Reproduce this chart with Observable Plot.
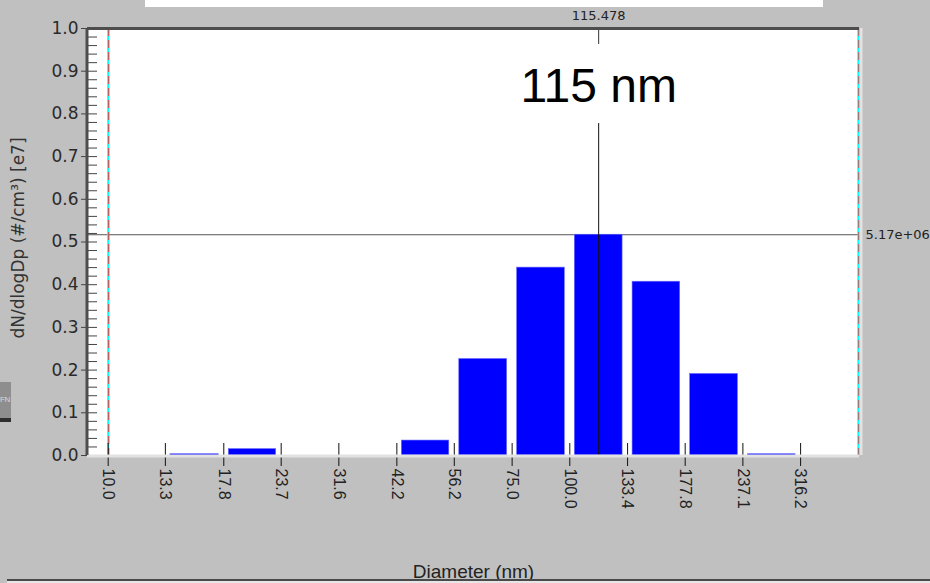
<!DOCTYPE html>
<html>
<head>
<meta charset="utf-8">
<script src="https://cdn.jsdelivr.net/npm/d3@7"></script>
<script src="https://cdn.jsdelivr.net/npm/@observablehq/plot@0.6"></script>
<style>
  html, body { margin: 0; padding: 0; background: #c0c0c0; }
  #wrap { position: relative; width: 930px; height: 583px; overflow: hidden; background: #c0c0c0; }
  #wrap svg { position: absolute; left: 0; top: 0; }
  .topbar { position: absolute; left: 145px; top: 0; width: 678px; height: 7px; background: #ffffff; }
  .fnbtn { position: absolute; left: 0; top: 382px; width: 11px; height: 40px; background: #8e8e8e; overflow: hidden; border-bottom: 4px solid #2e2e2e; box-sizing: border-box; }
  .fnbtn span { position: absolute; left: 0; top: 13px; font: 8px "Liberation Sans", Arial, sans-serif; letter-spacing: -0.5px; color: #d8d8d8; }
  .baseline { position: absolute; left: 7px; top: 579px; width: 923px; height: 2px; background: #4a4a4a; }
  .below { position: absolute; left: 7px; top: 581px; width: 923px; height: 2px; background: #e6e6e6; }
</style>
</head>
<body>
<div id="wrap">
  <div class="topbar"></div>
  <div class="fnbtn"><span>FN</span></div>
  <div class="baseline"></div>
  <div class="below"></div>
</div>
<script>
// Size-bin edges (nm), 8 bins per decade, also used as the x tick labels
const xTicks = [10.0, 13.3, 17.8, 23.7, 31.6, 42.2, 56.2, 75.0, 100.0, 133.4, 177.8, 237.1, 316.2];
// dN/dlogDp per bin, in units of 1e7 #/cm³ (one value per bin between consecutive edges)
const binValues = [0, 0.003, 0.015, 0, 0, 0.035, 0.226, 0.440, 0.517, 0.407, 0.191, 0.003];
// y tick values
const yTicks = [0, 0.1, 0.2, 0.3, 0.4, 0.5, 0.6, 0.7, 0.8, 0.9, 1.0];
const yMinor = d3.range(0, 51).map(i => i / 50);
// cursor position: diameter (nm) and concentration (#/cm³)
const crossX = 115.478;
const crossY = 5.17e6;
const yUnit = 1e7;
// sizing range bounds (nm)
const rangeBounds = [10.0, 421.7];
// visible diameter domain
const xDomain = [9.019, 424.2];

const bins = binValues
  .map((v, i) => ({x1: xTicks[i], x2: xTicks[i + 1], y: v}))
  .filter(d => d.y > 0);

function fmtExp(v) {
  const [m, e] = v.toExponential(2).split("e");
  return `${m}e${e[0]}${e.slice(1).padStart(2, "0")}`;
}

const W = 930, H = 583, mL = 87, mR = 71, mT = 28, mB = 128;
const frameW = W - mL - mR, frameH = H - mT - mB;
const dark = "#4d4d4d", light = "#e2e2e2";

const chart = Plot.plot({
  width: W,
  height: H,
  marginLeft: mL,
  marginRight: mR,
  marginTop: mT,
  marginBottom: mB,
  style: {background: "transparent", fontFamily: "'Liberation Sans', Arial, sans-serif", color: "#222"},
  x: {type: "log", domain: xDomain},
  y: {domain: [0, 1]},
  marks: [
    Plot.frame({fill: "white", stroke: null}),
    // horizontal cursor
    Plot.ruleY([crossY / yUnit], {stroke: "#555", strokeWidth: 1}),
    // bars
    Plot.rectY(bins, {x1: "x1", x2: "x2", y: "y", fill: "#0000ff", stroke: "#6a6aff", strokeWidth: 0.6, insetLeft: 5, insetRight: 5}),
    // sizing range bounds
    Plot.ruleX(rangeBounds, {stroke: "#00ffff", strokeWidth: 2}),
    Plot.ruleX(rangeBounds, {stroke: "#ff2020", strokeWidth: 1, strokeDasharray: "8,4", dx: 0.6}),
    // vertical cursor, interrupted around its label
    Plot.ruleX([crossX], {stroke: "#333", strokeWidth: 1, insetBottom: frameH - 16}),
    Plot.ruleX([crossX], {stroke: "#111", strokeWidth: 1, insetTop: 95}),
    Plot.text([crossX], {x: d => d, text: d => `${Math.round(d)} nm`, frameAnchor: "top", lineAnchor: "middle", dy: 58, fontSize: 48, fill: "#000"}),
    // minor y ticks inside the frame
    Plot.tickY(yMinor, {y: d => d, stroke: "#444", strokeWidth: 1, insetRight: frameW - 10}),
    // x ticks inside the frame
    Plot.tickX(xTicks, {x: d => d, stroke: "#111", strokeWidth: 1, insetTop: frameH - 12}),
    Plot.axisY({ticks: yTicks, tickFormat: d3.format(".1f"), tickSize: 6, tickPadding: 3, fontSize: 17, fontFamily: "'DejaVu Sans', sans-serif", stroke: "#444", fill: "#2a2a2a", label: null}),
    Plot.axisX({ticks: xTicks, tickFormat: d => d.toFixed(1), tickRotate: 90, tickSize: 11, tickPadding: 2, fontSize: 16, stroke: "#111", fill: "#222", label: null}),
    // panel borders
    Plot.ruleY([0], {stroke: light, strokeWidth: 3, dy: 0.5}),
    Plot.ruleX([xDomain[1]], {stroke: light, strokeWidth: 3, dx: 1.5}),
    Plot.ruleY([1], {stroke: dark, strokeWidth: 3}),
    Plot.ruleX([xDomain[0]], {stroke: dark, strokeWidth: 3, dx: -0.5}),
    // cursor read-outs
    Plot.text([crossX], {x: d => d, text: d => d.toFixed(3), frameAnchor: "top", lineAnchor: "middle", dy: -13, fontSize: 13, fontFamily: "'DejaVu Sans', sans-serif", fill: "#222"}),
    Plot.text([crossY], {y: d => d / yUnit, text: d => fmtExp(d), frameAnchor: "right", textAnchor: "start", lineAnchor: "middle", dx: 6, fontSize: 13, fontFamily: "'DejaVu Sans', sans-serif", fill: "#222"}),
    // axis titles
    Plot.text(["dN/dlogDp (#/cm³) [e7]"], {frameAnchor: "left", textAnchor: "middle", lineAnchor: "middle", rotate: -90, dx: -69, dy: -4, fontSize: 17, fontFamily: "'DejaVu Sans', sans-serif", fill: "#333"}),
    Plot.text(["Diameter (nm)"], {frameAnchor: "bottom", textAnchor: "middle", lineAnchor: "middle", dy: 116, fontSize: 19, fill: "#222"})
  ]
});

document.getElementById("wrap").prepend(chart);
</script>
</body>
</html>
